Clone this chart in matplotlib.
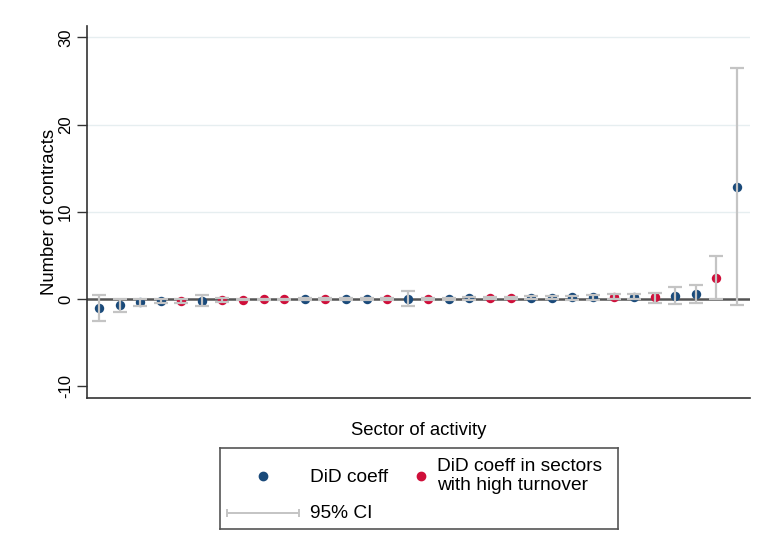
import numpy as np
import matplotlib
matplotlib.use('Agg')
import matplotlib.pyplot as plt

plt.rcParams['font.family'] = ['Liberation Sans', 'DejaVu Sans']
plt.rcParams['axes.unicode_minus'] = False

# DiD coefficients by sector, sorted, with 95% CI bounds
coef = [-1.07, -0.69, -0.38, -0.23, -0.23, -0.2, -0.1, -0.05, -0.04, -0.02,
        0.0, 0.0, 0.0, 0.0, 0.0, 0.05, 0.03, 0.05, 0.08, 0.1,
        0.1, 0.15, 0.15, 0.18, 0.2, 0.27, 0.27, 0.2, 0.34, 0.57,
        2.44, 12.9]
ci_lo = [-2.55, -1.44, -0.8, -0.5, -0.45, -0.85, -0.3, -0.15, -0.12, -0.1,
         -0.08, -0.1, -0.1, -0.1, -0.1, -0.8, -0.05, -0.05, -0.05, -0.02,
         0.0, 0.0, 0.0, -0.05, -0.1, 0.0, 0.0, -0.42, -0.57, -0.5,
         0.0, -0.7]
ci_hi = [0.45, 0.06, 0.03, 0.05, 0.0, 0.45, 0.1, 0.05, 0.04, 0.06,
         0.08, 0.1, 0.1, 0.1, 0.1, 0.9, 0.1, 0.15, 0.2, 0.2,
         0.2, 0.3, 0.3, 0.4, 0.5, 0.55, 0.55, 0.65, 1.34, 1.6,
         4.88, 26.5]
# 1 = sector with high turnover
high_turnover = [0, 0, 0, 0, 1, 0, 1, 1, 1, 1,
                 0, 1, 0, 0, 1, 0, 1, 0, 0, 1,
                 1, 0, 0, 0, 0, 1, 0, 1, 0, 0,
                 1, 0]

coef = np.array(coef)
ci_lo = np.array(ci_lo)
ci_hi = np.array(ci_hi)
high = np.array(high_turnover) == 1
x = np.arange(1, len(coef) + 1)

blue = '#1a4a7a'
red = '#cf0f3a'
ci_col = '#c4c4c4'
fs = 13.3

fig = plt.figure(figsize=(7.57, 5.54), dpi=100)
ax = fig.add_axes([87/757, 1 - 398/554, 663/757, 372/554])

ax.axhline(0, color='#555555', lw=1.8, zorder=1)
ax.scatter(x[~high], coef[~high], s=46, color=blue, zorder=2, lw=0)
ax.scatter(x[high], coef[high], s=46, color=red, zorder=2, lw=0)
ax.errorbar(x, coef, yerr=[coef - ci_lo, ci_hi - coef], fmt='none',
            ecolor=ci_col, elinewidth=1.6, capsize=5, capthick=1.6, zorder=3)

ax.set_xlim(0.42, 32.63)
ax.set_ylim(-11.34, 31.3)
ax.set_yticks([-10, 0, 10, 20, 30])
ax.set_xticks([])
ax.tick_params(axis='y', length=7, width=1, color='#333333', labelsize=12,
               labelrotation=90, pad=3)
for lab in ax.get_yticklabels():
    lab.set_va('center')
ax.yaxis.grid(True, color='#e6eef0', lw=1)
ax.yaxis.get_gridlines()[0].set_visible(False)
ax.set_axisbelow(True)
for side in ['top', 'right']:
    ax.spines[side].set_visible(False)
for side in ['left', 'bottom']:
    ax.spines[side].set_color('#333333')
    ax.spines[side].set_linewidth(1.2)

ax.set_ylabel('Number of contracts', fontsize=fs, labelpad=0)
ax.set_xlabel('Sector of activity', fontsize=fs, labelpad=17)

# legend box drawn by hand (Stata-style layout)
lg = fig.add_axes([220/757, 1 - 529/554, 398/757, 81/554])
lg.set_xlim(0, 398)
lg.set_ylim(81, 0)
lg.set_xticks([])
lg.set_yticks([])
for s in lg.spines.values():
    s.set_color('#555555')
    s.set_linewidth(1.2)
lg.plot([43], [28], 'o', color=blue, ms=6)
lg.text(90, 29, 'DiD coeff', fontsize=13.8, va='center')
lg.plot([201], [28], 'o', color=red, ms=6)
lg.text(217, 28, 'DiD coeff in sectors\nwith high turnover', fontsize=13.8,
        va='center', linespacing=1.2)
lg.errorbar([43], [65], xerr=[[36], [36]], fmt='none', ecolor=ci_col,
            elinewidth=1.4, capsize=3, capthick=1.4)
lg.text(90, 65, '95% CI', fontsize=13.8, va='center')

fig.savefig('out.png', dpi=100)
